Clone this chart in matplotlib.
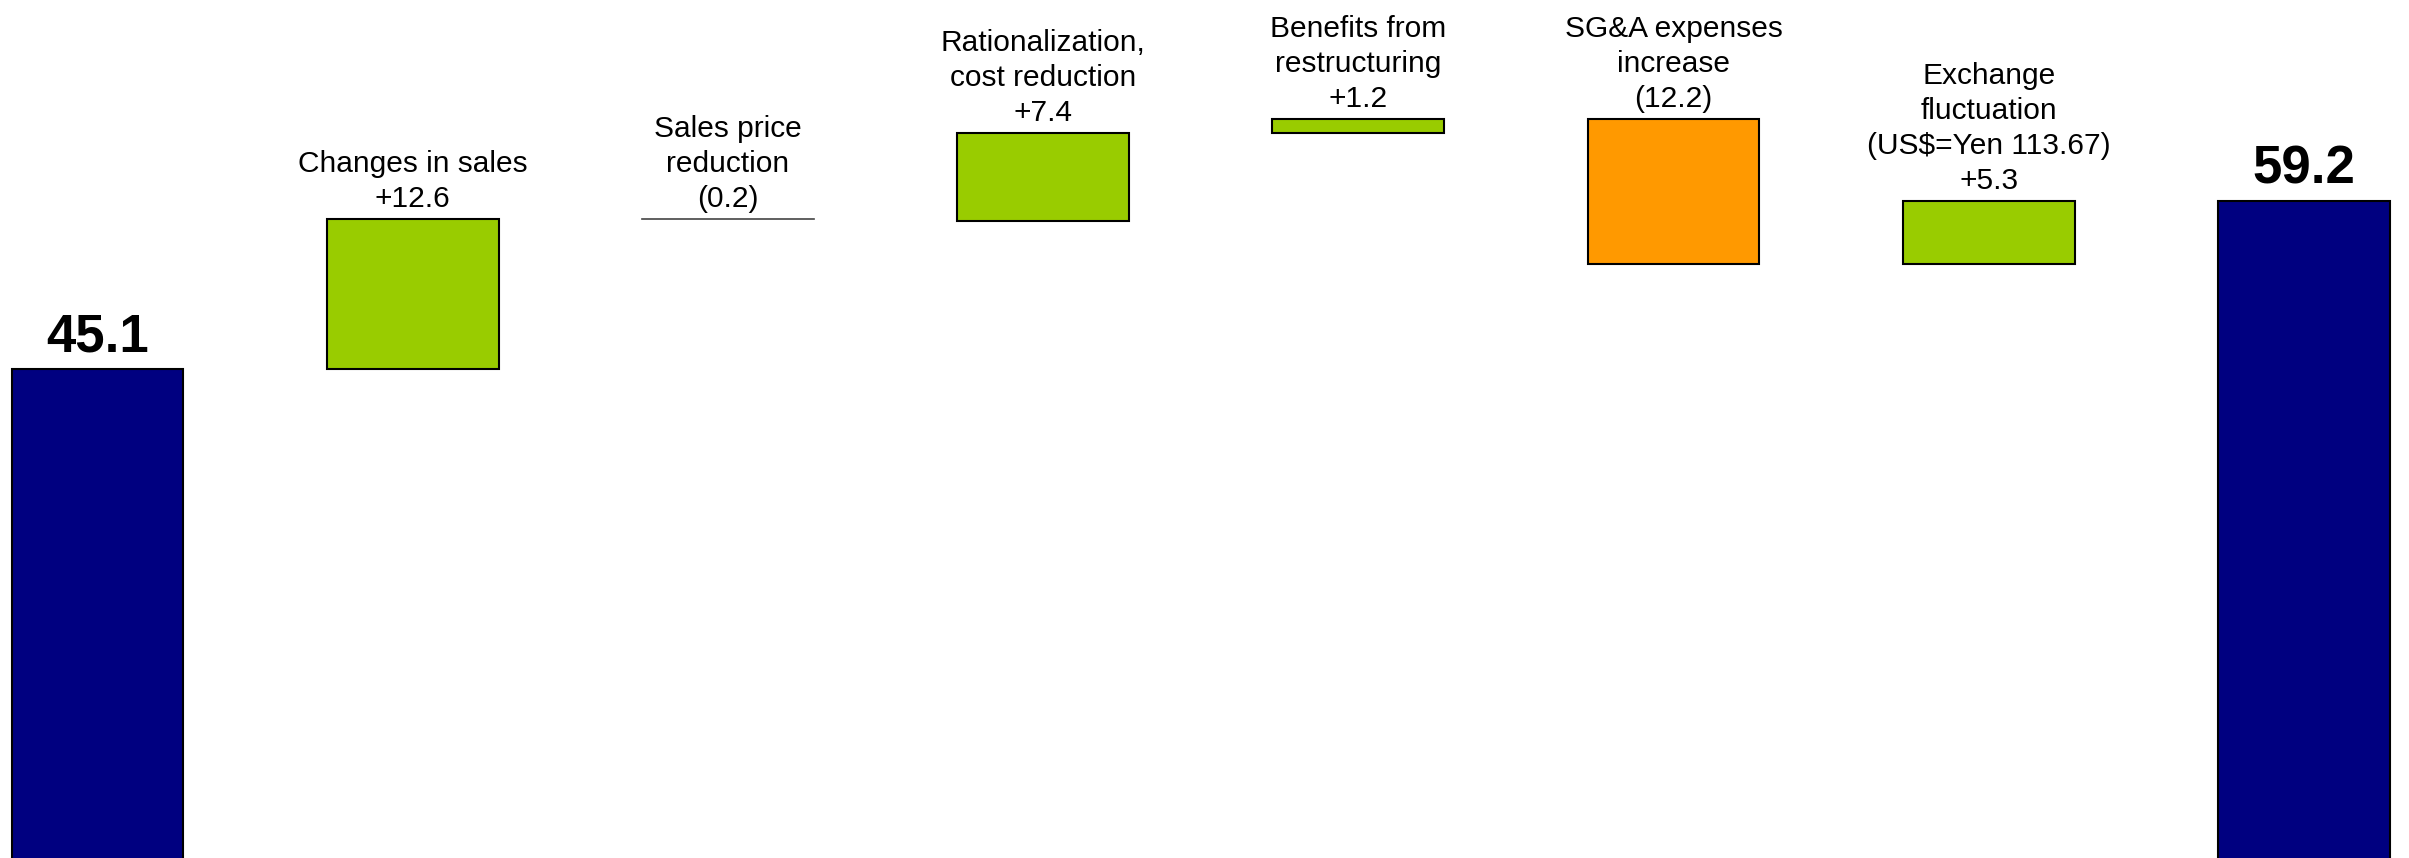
import matplotlib
matplotlib.use("Agg")
import matplotlib.pyplot as plt

categories = ["", "Changes in sales", "Sales price\nreduction", "Rationalization,\ncost reduction",
              "Benefits from\nrestructuring", "SG&A expenses\nincrease",
              "Exchange\nfluctuation\n(US$=Yen 113.67)", ""]
start_value = 45.1
changes = [12.6, -0.2, 7.4, 1.2, -12.2, 5.3]
end_value = 59.2
change_labels = ["+12.6", "(0.2)", "+7.4", "+1.2", "(12.2)", "+5.3"]

total_color = "#000080"
up_color = "#99CC00"
down_color = "#FF9900"

plt.rcParams['font.family'] = ['Liberation Sans', 'DejaVu Sans']

fig = plt.figure(figsize=(24.09, 8.58), dpi=100)
ax = fig.add_axes([0, 0, 1, 1])
ax.set_xlim(-0.309, 7.333)
ax.set_ylim(4.12, 76.04)
ax.axis("off")

width = 0.545

# totals
ax.bar([0, 7], [start_value, end_value], width=width, color=total_color,
       edgecolor="black", linewidth=1.5)
for x, v in [(0, start_value), (7, end_value)]:
    ax.annotate(f"{v:.1f}", (x, v), xytext=(0, 4.5), textcoords="offset points",
                ha="center", va="bottom", fontsize=38, fontweight="bold")

# changes
level = start_value
for i, (c, lab) in enumerate(zip(changes, change_labels), start=1):
    bottom = level if c >= 0 else level + c
    col = up_color if c >= 0 else down_color
    if abs(c) < 0.5:
        ax.plot([i - width / 2, i + width / 2], [level, level], color="#444444", lw=1.2)
        top = level
    else:
        ax.bar(i, abs(c), bottom=bottom, width=width, color=col,
               edgecolor="black", linewidth=1.5)
        top = bottom + abs(c)
    ax.annotate(categories[i] + "\n" + lab, (i, top), xytext=(0, 4.0),
                textcoords="offset points", ha="center", va="bottom",
                fontsize=21.5, linespacing=1.32)
    level += c

fig.savefig("out.png", dpi=100)
